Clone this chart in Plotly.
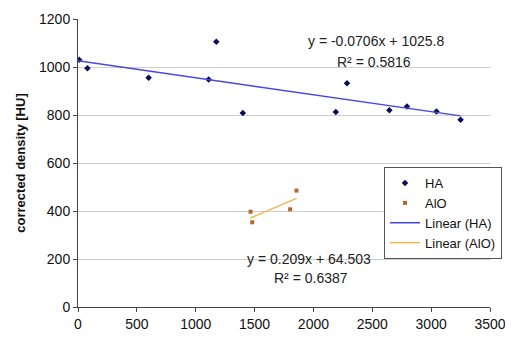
import numpy as np
import plotly.graph_objects as go

ha_x = [10, 80, 600, 1110, 1175, 1400, 2190, 2285, 2645, 2795, 3045, 3250]
ha_y = [1030, 995, 955, 948, 1105, 808, 813, 932, 820, 835, 815, 780]
alo_x = [1466, 1480, 1802, 1856]
alo_y = [397, 353, 407, 485]

ha_slope, ha_icpt, ha_r2 = -0.0706, 1025.8, 0.5816
alo_slope, alo_icpt, alo_r2 = 0.209, 64.503, 0.6387

x_ticks = [0, 500, 1000, 1500, 2000, 2500, 3000, 3500]
y_ticks = [0, 200, 400, 600, 800, 1000, 1200]

font = "Liberation Sans, Arial, sans-serif"

ha_lx = np.array([0, max(ha_x)])
alo_lx = np.array([min(alo_x), max(alo_x)])

fig = go.Figure()
fig.add_trace(go.Scatter(x=ha_x, y=ha_y, mode="markers", name="HA",
                         marker=dict(symbol="diamond", size=5, color="#0a0a5a")))
fig.add_trace(go.Scatter(x=alo_x, y=alo_y, mode="markers", name="AlO",
                         marker=dict(symbol="square", size=4, color="#b8652a")))
fig.add_trace(go.Scatter(x=ha_lx, y=ha_slope * ha_lx + ha_icpt, mode="lines",
                         name="Linear (HA)", line=dict(color="#4646e6", width=1.5)))
fig.add_trace(go.Scatter(x=alo_lx, y=alo_slope * alo_lx + alo_icpt, mode="lines",
                         name="Linear (AlO)", line=dict(color="#f5b54a", width=1.5)))

# page body has an 8px default margin; figure occupies 8..513 x 8..338
OFF = 8
W, H = 513 - OFF, 338 - OFF
L, R, T, B = 78 - OFF, 19, 19 - OFF, 31
pw, ph = W - L - R, H - T - B
annots = [
    (f"y = {ha_slope}x + {ha_icpt}", 379, 41),
    (f"R² = {ha_r2}", 377, 62),
    (f"y = {alo_slope}x + {alo_icpt}", 311, 259),
    (f"R² = {alo_r2}", 313, 278),
]
for txt, px, py in annots:
    fig.add_annotation(x=(px - 78) / pw, y=(307 - py) / ph,
                       xref="paper", yref="paper", text=txt, showarrow=False,
                       font=dict(family=font, size=14, color="#222222"),
                       xanchor="center", yanchor="middle")

fig.update_layout(
    width=W, height=H, margin=dict(l=L, r=R, t=T, b=B),
    paper_bgcolor="white", plot_bgcolor="white",
    font=dict(family=font, size=14, color="#111111"),
    showlegend=True,
    legend=dict(x=(387 - 78) / pw, y=(307 - 167) / ph,
                xanchor="left", yanchor="top",
                bgcolor="white", bordercolor="#555555", borderwidth=1,
                font=dict(size=13), itemwidth=30, tracegroupgap=0),
)
fig.update_xaxes(range=[0, 3500], tickvals=x_ticks, showgrid=False,
                 showline=True, linecolor="#444444", linewidth=1,
                 ticks="outside", ticklen=4, tickcolor="#444444",
                 zeroline=False, tickfont=dict(size=14), automargin=False)
fig.update_yaxes(range=[0, 1200], tickvals=y_ticks, showgrid=True,
                 gridcolor="#cfcfcf", gridwidth=1,
                 showline=True, linecolor="#444444", linewidth=1,
                 ticks="outside", ticklen=4, tickcolor="#444444",
                 zeroline=False, tickfont=dict(size=14), automargin=False,
                 title=dict(text="<b>corrected density [HU]</b>",
                            font=dict(size=13), standoff=10))

fig.write_html("out.html")
